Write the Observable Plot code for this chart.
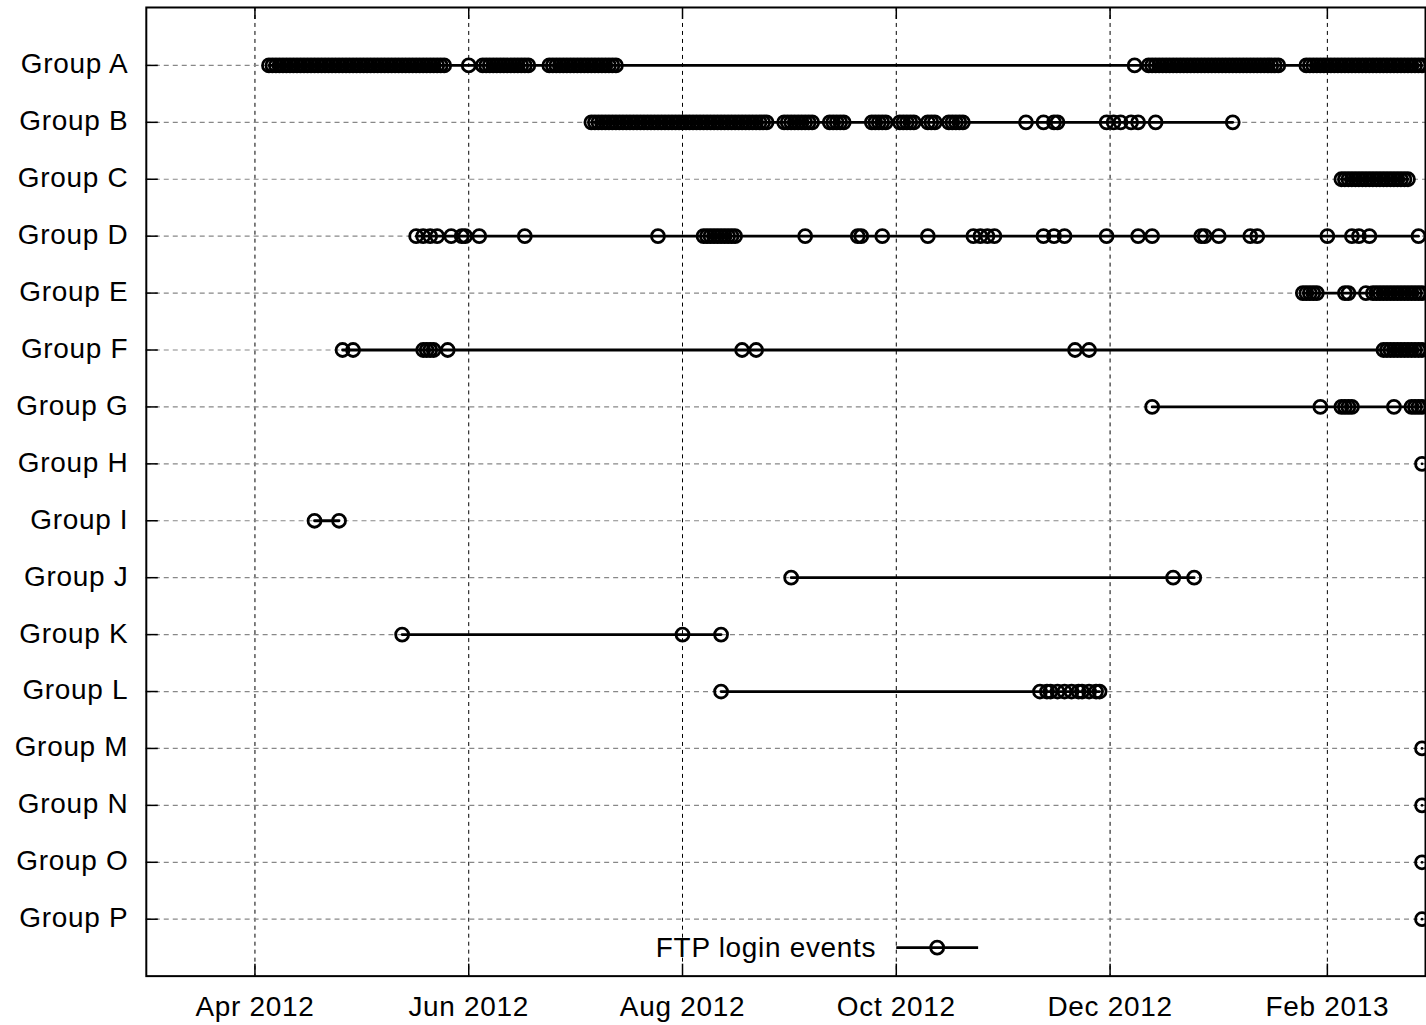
<!DOCTYPE html>
<html><head><meta charset="utf-8">
<script src="https://cdn.jsdelivr.net/npm/d3@7"></script>
<script src="https://cdn.jsdelivr.net/npm/@observablehq/plot@0.6"></script>
<style>
html,body{margin:0;padding:0;background:#fff;overflow:hidden}
</style></head><body><div id="chart"></div>
<script>
const groups = ["Group A","Group B","Group C","Group D","Group E","Group F","Group G","Group H","Group I","Group J","Group K","Group L","Group M","Group N","Group O","Group P"];

const eventsA = ["2012-04-05","2012-04-06","2012-04-07","2012-04-08","2012-04-09","2012-04-10","2012-04-11","2012-04-12","2012-04-13","2012-04-14","2012-04-15","2012-04-16","2012-04-17","2012-04-18","2012-04-19","2012-04-20","2012-04-21","2012-04-22","2012-04-23","2012-04-24","2012-04-25","2012-04-26","2012-04-27","2012-04-28","2012-04-29","2012-04-30","2012-05-01","2012-05-02","2012-05-03","2012-05-04","2012-05-05","2012-05-06","2012-05-07","2012-05-08","2012-05-09","2012-05-10","2012-05-11","2012-05-12","2012-05-13","2012-05-14","2012-05-15","2012-05-16","2012-05-17","2012-05-18","2012-05-19","2012-05-20","2012-05-21","2012-05-22","2012-05-23","2012-05-24","2012-05-25",
"2012-06-01",
"2012-06-05","2012-06-06","2012-06-07","2012-06-08","2012-06-09","2012-06-10","2012-06-11","2012-06-12","2012-06-13","2012-06-14","2012-06-15","2012-06-16","2012-06-17","2012-06-18",
"2012-06-24","2012-06-25","2012-06-26","2012-06-27","2012-06-28","2012-06-29","2012-06-30","2012-07-01","2012-07-02","2012-07-03","2012-07-04","2012-07-05","2012-07-06","2012-07-07","2012-07-08","2012-07-09","2012-07-10","2012-07-11","2012-07-12","2012-07-13",
"2012-12-08",
"2012-12-12","2012-12-13","2012-12-14","2012-12-15","2012-12-16","2012-12-17","2012-12-18","2012-12-19","2012-12-20","2012-12-21","2012-12-22","2012-12-23","2012-12-24","2012-12-25","2012-12-26","2012-12-27","2012-12-28","2012-12-29","2012-12-30","2012-12-31","2013-01-01","2013-01-02","2013-01-03","2013-01-04","2013-01-05","2013-01-06","2013-01-07","2013-01-08","2013-01-09","2013-01-10","2013-01-11","2013-01-12","2013-01-13","2013-01-14","2013-01-15","2013-01-16","2013-01-17","2013-01-18",
"2013-01-26","2013-01-27","2013-01-28","2013-01-29","2013-01-30","2013-01-31","2013-02-01","2013-02-02","2013-02-03","2013-02-04","2013-02-05","2013-02-06","2013-02-07","2013-02-08","2013-02-09","2013-02-10","2013-02-11","2013-02-12","2013-02-13","2013-02-14","2013-02-15","2013-02-16","2013-02-17","2013-02-18","2013-02-19","2013-02-20","2013-02-21","2013-02-22","2013-02-23","2013-02-24","2013-02-25","2013-02-26","2013-02-27","2013-02-28"];

const eventsB = ["2012-07-06","2012-07-07","2012-07-08","2012-07-09","2012-07-10","2012-07-11","2012-07-12","2012-07-13","2012-07-14","2012-07-15","2012-07-16","2012-07-17","2012-07-18","2012-07-19","2012-07-20","2012-07-21","2012-07-22","2012-07-23","2012-07-24","2012-07-25","2012-07-26","2012-07-27","2012-07-28","2012-07-29","2012-07-30","2012-07-31","2012-08-01","2012-08-02","2012-08-03","2012-08-04","2012-08-05","2012-08-06","2012-08-07","2012-08-08","2012-08-09","2012-08-10","2012-08-11","2012-08-12","2012-08-13","2012-08-14","2012-08-15","2012-08-16","2012-08-17","2012-08-18","2012-08-19","2012-08-20","2012-08-21","2012-08-22","2012-08-23","2012-08-24","2012-08-25",
"2012-08-30","2012-08-31","2012-09-01","2012-09-02","2012-09-03","2012-09-04","2012-09-05","2012-09-06","2012-09-07",
"2012-09-12","2012-09-13","2012-09-14","2012-09-15","2012-09-16",
"2012-09-24","2012-09-25","2012-09-26","2012-09-27","2012-09-28",
"2012-10-02","2012-10-03","2012-10-04","2012-10-05","2012-10-06",
"2012-10-10","2012-10-11","2012-10-12",
"2012-10-16","2012-10-17","2012-10-18","2012-10-19","2012-10-20",
"2012-11-07","2012-11-12","2012-11-15","2012-11-16",
"2012-11-30","2012-12-02","2012-12-04","2012-12-07","2012-12-09","2012-12-14",
"2013-01-05"];

const eventsC = ["2013-02-05","2013-02-06","2013-02-07","2013-02-08","2013-02-09","2013-02-10","2013-02-11","2013-02-12","2013-02-13","2013-02-14","2013-02-15","2013-02-16","2013-02-17","2013-02-18","2013-02-19","2013-02-20","2013-02-21","2013-02-22","2013-02-23","2013-02-24"];

const eventsD = ["2012-05-17","2012-05-19","2012-05-21","2012-05-23","2012-05-27","2012-05-30","2012-05-31","2012-06-04","2012-06-17","2012-07-25",
"2012-08-07","2012-08-08","2012-08-09","2012-08-10","2012-08-11","2012-08-12","2012-08-13","2012-08-14","2012-08-15","2012-08-16",
"2012-09-05","2012-09-20","2012-09-21","2012-09-27","2012-10-10","2012-10-23","2012-10-25","2012-10-27","2012-10-29",
"2012-11-12","2012-11-15","2012-11-18","2012-11-30","2012-12-09","2012-12-13","2012-12-27","2012-12-28","2013-01-01",
"2013-01-10","2013-01-12","2013-02-01","2013-02-08","2013-02-10","2013-02-13","2013-02-27"];

const eventsE = ["2013-01-25","2013-01-26","2013-01-27","2013-01-28","2013-01-29","2013-02-06","2013-02-07","2013-02-12","2013-02-14","2013-02-15","2013-02-16","2013-02-17","2013-02-18","2013-02-19","2013-02-20","2013-02-21","2013-02-22","2013-02-23","2013-02-24","2013-02-25","2013-02-26","2013-02-27","2013-02-28"];

const eventsF = ["2012-04-26","2012-04-29","2012-05-19","2012-05-20","2012-05-21","2012-05-22","2012-05-26","2012-08-18","2012-08-22","2012-11-21","2012-11-25",
"2013-02-17","2013-02-18","2013-02-19","2013-02-20","2013-02-21","2013-02-22","2013-02-23","2013-02-24","2013-02-25","2013-02-26","2013-02-27","2013-02-28"];

const eventsG = ["2012-12-13","2013-01-30","2013-02-05","2013-02-06","2013-02-07","2013-02-08","2013-02-20","2013-02-25","2013-02-26","2013-02-27","2013-02-28"];
const eventsH = ["2013-02-28"];
const eventsI = ["2012-04-18","2012-04-25"];
const eventsJ = ["2012-09-01","2012-12-19","2012-12-25"];
const eventsK = ["2012-05-13","2012-08-01","2012-08-12"];
const eventsL = ["2012-08-12","2012-11-11","2012-11-13","2012-11-14","2012-11-16","2012-11-18","2012-11-20","2012-11-22","2012-11-23","2012-11-25","2012-11-27","2012-11-28"];
const eventsM = ["2013-02-28"];
const eventsN = ["2013-02-28"];
const eventsO = ["2013-02-28"];
const eventsP = ["2013-02-28"];

const tickDates = ["2012-04-01","2012-06-01","2012-08-01","2012-10-01","2012-12-01","2013-02-01"];
const tickLabels = ["Apr 2012","Jun 2012","Aug 2012","Oct 2012","Dec 2012","Feb 2013"];
const xDomain = ["2012-03-01","2013-03-01"];
const legendLabel = "FTP login events";

const allEvents = [eventsA,eventsB,eventsC,eventsD,eventsE,eventsF,eventsG,eventsH,eventsI,eventsJ,eventsK,eventsL,eventsM,eventsN,eventsO,eventsP];
const rows = [];
groups.forEach((g, i) => allEvents[i].forEach(d => rows.push({group: g, date: new Date(d)})));
const ticks = tickDates.map(d => new Date(d));
const labelOf = new Map(ticks.map((t, i) => [+t, tickLabels[i]]));

const W = 1428, H = 1025;
const mL = 146, mR = 1, mT = 7, mB = 48;
const plotW = W - mL - mR, plotH = H - mT - mB;

const plot = Plot.plot({
  width: W, height: H,
  marginLeft: mL, marginRight: mR, marginTop: mT, marginBottom: mB,
  style: {fontFamily: "'Liberation Sans', Arial, sans-serif", fontSize: "28px", letterSpacing: "0.7px", color: "#000", background: "#fff"},
  x: {type: "utc", domain: xDomain.map(d => new Date(d)), label: null},
  y: {type: "point", domain: groups, padding: 1, label: null},
  marks: [
    Plot.gridX(ticks, {stroke: "#000", strokeOpacity: 1, strokeWidth: 1, strokeDasharray: "4,4"}),
    Plot.gridY(groups, {stroke: "#888", strokeOpacity: 1, strokeWidth: 1.2, strokeDasharray: "5,4"}),
    Plot.ruleX(ticks, {x: d => d, insetTop: plotH - 12, stroke: "#000", strokeWidth: 1.5}),
    Plot.ruleX(ticks, {x: d => d, insetBottom: plotH - 12, stroke: "#000", strokeWidth: 1.5}),
    Plot.ruleY(groups, {y: d => d, insetRight: plotW - 12, stroke: "#000", strokeWidth: 1.5}),
    Plot.axisX(ticks, {tickSize: 0, tickPadding: 20, tickFormat: d => labelOf.get(+d), fontSize: 28, label: null}),
    Plot.axisY(groups, {tickSize: 0, tickPadding: 18, dy: -1, fontSize: 28, label: null}),
    Plot.line(rows, {x: "date", y: "group", z: "group", stroke: "#000", strokeWidth: 2.8, sort: "date"}),
    Plot.dot(rows, {x: "date", y: "group", r: 6.5, stroke: "#000", strokeWidth: 2.8, fill: "none"}),
    Plot.frame({stroke: "#000", strokeWidth: 2})
  ]
});
document.getElementById("chart").appendChild(plot);

// legend (inside the frame, near the bottom)
const svg = d3.select(plot);
const ly = H - mB - 28;
const cx = mL + plotW / 2;
const lg = svg.append("g");
lg.append("text").attr("x", cx + 91).attr("y", ly).attr("dy", "0.35em")
  .attr("text-anchor", "end").attr("font-size", 28).attr("fill", "#000").text(legendLabel);
lg.append("line").attr("x1", cx + 111).attr("x2", cx + 193).attr("y1", ly).attr("y2", ly)
  .attr("stroke", "#000").attr("stroke-width", 2.8);
lg.append("circle").attr("cx", cx + 152).attr("cy", ly).attr("r", 6.5)
  .attr("stroke", "#000").attr("stroke-width", 2.8).attr("fill", "none");
</script>
</body></html>
